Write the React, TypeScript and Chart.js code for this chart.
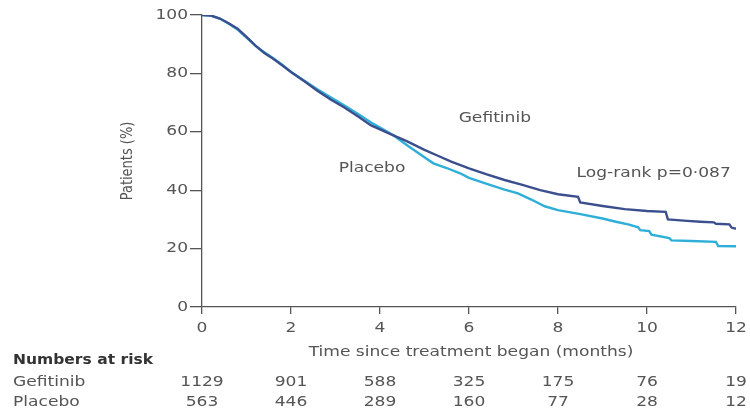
import { useEffect, useRef } from "react";
import { Chart, registerables } from "chart.js";

Chart.register(...registerables);

// ---- data (Kaplan-Meier curves, % of patients) ----
const gefitinibTime = [
  0, 0.2, 0.4, 0.6, 0.8, 1.0, 1.2, 1.4, 1.6, 1.8, 2.0, 2.3, 2.6, 2.9, 3.2, 3.5, 3.8, 4.0, 4.3,
  4.6, 5.0, 5.3, 5.6, 6.0, 6.4, 6.8, 7.2, 7.6, 8.0, 8.45, 8.5, 9.0, 9.5, 10.0, 10.42, 10.47,
  10.9, 11.2, 11.5, 11.55, 11.85, 11.9, 12.0,
];
const gefitinibSurv = [
  100, 99.8, 98.8, 97.2, 95.3, 92.5, 89.5, 87.0, 85.0, 82.8, 80.5, 77.3, 74.0, 71.0, 68.3, 65.3,
  62.2, 60.8, 58.8, 56.8, 53.8, 51.8, 49.8, 47.5, 45.4, 43.5, 41.8, 40.0, 38.6, 37.7, 35.8, 34.6,
  33.5, 32.9, 32.6, 30.0, 29.5, 29.2, 29.0, 28.5, 28.3, 27.2, 26.8,
];
const placeboTime = [
  0, 0.2, 0.4, 0.6, 0.8, 1.0, 1.2, 1.4, 1.6, 1.8, 2.0, 2.3, 2.6, 2.9, 3.2, 3.5, 3.8, 4.0, 4.3,
  4.6, 4.9, 5.2, 5.5, 5.8, 6.0, 6.4, 6.8, 7.1, 7.4, 7.7, 8.0, 8.5, 9.0, 9.3, 9.6, 9.8, 9.85,
  10.05, 10.1, 10.5, 10.55, 11.0, 11.55, 11.6, 12.0,
];
const placeboSurv = [
  100, 99.8, 98.8, 97.0, 95.0, 92.3, 89.5, 87.2, 85.2, 83.0, 80.5, 77.5, 74.5, 71.7, 69.0, 66.2,
  63.2, 61.5, 58.8, 55.5, 52.3, 49.2, 47.6, 45.8, 44.2, 42.2, 40.2, 38.9, 36.8, 34.5, 33.2, 31.8,
  30.3, 29.2, 28.2, 27.3, 26.3, 26.0, 24.8, 23.6, 22.8, 22.6, 22.3, 20.9, 20.8,
];

const seriesNames = ["Gefitinib", "Placebo"];
const riskTimes = [0, 2, 4, 6, 8, 10, 12];
const riskGefitinib = [1129, 901, 588, 325, 175, 76, 19];
const riskPlacebo = [563, 446, 289, 160, 77, 28, 12];

const xTitle = "Time since treatment began (months)";
const yTitle = "Patients (%)";
const riskTitle = "Numbers at risk";
const logRankText = "Log-rank p=0·087";

// labels inside the plot, placed in data coordinates
const plotLabels = [
  { text: "Gefitinib", x: 6.58, y: 64.6 },
  { text: "Placebo", x: 3.82, y: 47.5 },
  { text: logRankText, x: 10.15, y: 45.8 },
];

const FONT = '"DejaVu Sans", sans-serif';
const TEXT = "#555";
const SX = 1.22;

const textPlugin = {
  id: "kmText",
  afterDraw(chart: any) {
    const { ctx } = chart;
    const xs = chart.scales.x;
    const ys = chart.scales.y;
    const txt = (
      s: string,
      px: number,
      py: number,
      align: CanvasTextAlign,
      font: string,
      color: string,
      sx: number = SX,
    ) => {
      ctx.save();
      ctx.translate(px, py);
      ctx.scale(sx, 1);
      ctx.font = font;
      ctx.fillStyle = color;
      ctx.textAlign = align;
      ctx.textBaseline = "middle";
      ctx.fillText(s, 0, 0);
      ctx.restore();
    };
    const f14 = `14px ${FONT}`;

    // y tick labels
    ys.ticks.forEach((t: any) => {
      txt(String(t.value), ys.left + ys.width - 14, ys.getPixelForValue(t.value), "right", f14, TEXT);
    });
    // x tick labels
    xs.ticks.forEach((t: any) => {
      txt(String(t.value), xs.getPixelForValue(t.value), xs.top + 21, "center", f14, TEXT);
    });
    // x title
    txt(xTitle, (chart.chartArea.left + chart.chartArea.right) / 2 + 2, xs.top + 45, "center", f14, TEXT);

    // y title (rotated)
    ctx.save();
    ctx.translate(128, (chart.chartArea.top + chart.chartArea.bottom) / 2);
    ctx.rotate(-Math.PI / 2);
    ctx.scale(1, SX);
    ctx.font = `13px ${FONT}`;
    ctx.fillStyle = TEXT;
    ctx.textAlign = "center";
    ctx.textBaseline = "middle";
    ctx.fillText(yTitle, 0, 0);
    ctx.restore();

    // labels in plot
    plotLabels.forEach((l) => {
      txt(l.text, xs.getPixelForValue(l.x), ys.getPixelForValue(l.y), "center", f14, TEXT);
    });

    // numbers at risk
    txt(riskTitle, 13, xs.top + 53, "left", `bold 13.5px ${FONT}`, "#333", 1.15);
    const rows = [riskGefitinib, riskPlacebo];
    rows.forEach((row, r) => {
      const py = xs.top + 75 + r * 20;
      txt(seriesNames[r], 13, py, "left", f14, TEXT);
      row.forEach((n, i) => {
        txt(String(n), xs.getPixelForValue(riskTimes[i]), py, "center", f14, TEXT);
      });
    });
  },
};

export default function App() {
  const ref = useRef<HTMLCanvasElement | null>(null);

  useEffect(() => {
    if (!ref.current) return;
    const chart = new Chart(ref.current, {
      type: "line",
      data: {
        datasets: [
          {
            label: seriesNames[0],
            data: gefitinibTime.map((t, i) => ({ x: t, y: gefitinibSurv[i] })),
            borderColor: "#3b4f8f",
            borderWidth: 2.4,
            pointRadius: 0,
            tension: 0,
            fill: false,
          },
          {
            label: seriesNames[1],
            data: placeboTime.map((t, i) => ({ x: t, y: placeboSurv[i] })),
            borderColor: "#2eafd8",
            borderWidth: 2.4,
            pointRadius: 0,
            tension: 0,
            fill: false,
          },
        ],
      },
      options: {
        animation: false,
        responsive: false,
        maintainAspectRatio: false,
        devicePixelRatio: 1,
        layout: { padding: { left: 0, right: 14, top: 15, bottom: 0 } },
        plugins: {
          legend: { display: false },
          tooltip: { enabled: false },
        },
        scales: {
          x: {
            type: "linear",
            min: 0,
            max: 12,
            ticks: { stepSize: 2, color: "rgba(0,0,0,0)", font: { size: 14 } },
            grid: {
              drawOnChartArea: false,
              drawTicks: true,
              tickLength: 7,
              color: "#555",
              lineWidth: 1.3,
            },
            border: { display: true, color: "#555", width: 1.3 },
            afterFit: (s: any) => {
              s.height = 108;
            },
          },
          y: {
            type: "linear",
            min: 0,
            max: 100,
            ticks: { stepSize: 20, color: "rgba(0,0,0,0)", font: { size: 14 } },
            grid: {
              drawOnChartArea: false,
              drawTicks: true,
              tickLength: 12,
              color: "#555",
              lineWidth: 1.3,
            },
            border: { display: true, color: "#555", width: 1.3 },
            afterFit: (s: any) => {
              s.width = 202;
            },
          },
        },
      },
      plugins: [textPlugin],
    });
    return () => chart.destroy();
  }, []);

  return (
    <div style={{ position: "absolute", left: 0, top: 0, width: 750, height: 415, background: "#fff" }}>
      <canvas ref={ref} width={750} height={415} style={{ width: 750, height: 415, display: "block" }} />
    </div>
  );
}
